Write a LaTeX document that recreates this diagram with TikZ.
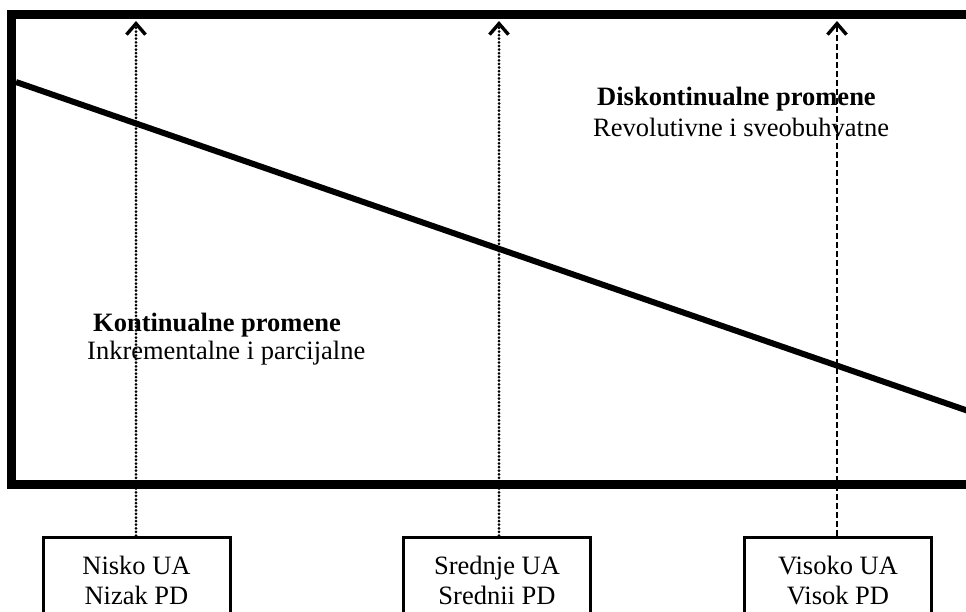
\documentclass[tikz,border=0pt]{standalone}
\usepackage{fontspec}
\setmainfont{Liberation Serif}
\usetikzlibrary{arrows.meta}
\begin{document}
\begin{tikzpicture}[x=1pt,y=-1pt,
  frame/.style={line width=9pt,line join=miter},
  diag/.style={line width=6pt},
  box/.style={draw,line width=3pt,fill=white,minimum width=187pt,align=center,inner ysep=19pt,anchor=north,font=\fontsize{26.5}{30}\selectfont},
  lbl/.style={anchor=base west,inner sep=0pt,font=\fontsize{26.5}{30}\selectfont},
  tip/.style={-{Straight Barb[length=11pt,width=19pt,line width=3.4pt]}},
  dotline/.style={tip,line width=3pt,line cap=round,dash pattern=on 0pt off 3.6pt},
  dashline/.style={tip,line width=2.6pt,dash pattern=on 6pt off 3pt}]
\useasboundingbox (0,0) rectangle (966,611);
\clip (0,0) rectangle (966,611);
\fill[white] (0,0) rectangle (966,611);
% frame
\draw[frame] (980,14.5) -- (11.5,14.5) -- (11.5,484.5) -- (980,484.5);
% diagonal
\draw[diag] (16,82) -- (980,415);
% labels
\node[lbl,font=\fontsize{26.5}{30}\selectfont\bfseries] (dk) at (597,105) {Diskontinualne promene};
\node[lbl] (rv) at (593,136) {Revolutivne i sveobuhvatne};
\node[lbl,font=\fontsize{26.5}{30}\selectfont\bfseries] (kt) at (93,331) {Kontinualne promene};
\node[lbl] (ik) at (87,359) {Inkrementalne i parcijalne};
% boxes
\node[box] (b1) at (136.5,535.5) {Nisko UA\\Nizak PD};
\node[box] (b2) at (497,535.5) {Srednje UA\\Srednii PD};
\node[box] (b3) at (838,535.5) {Visoko UA\\Visok PD};
% top targets
\coordinate (t1) at (136,21);
\coordinate (t2) at (499,21);
\coordinate (t3) at (837,21);
\draw[dotline] (t1 |- b1.north) -- (t1);
\draw[dotline] (t2 |- b2.north) -- (t2);
\draw[dashline] (t3 |- b3.north) -- (t3);
\end{tikzpicture}
\end{document}
